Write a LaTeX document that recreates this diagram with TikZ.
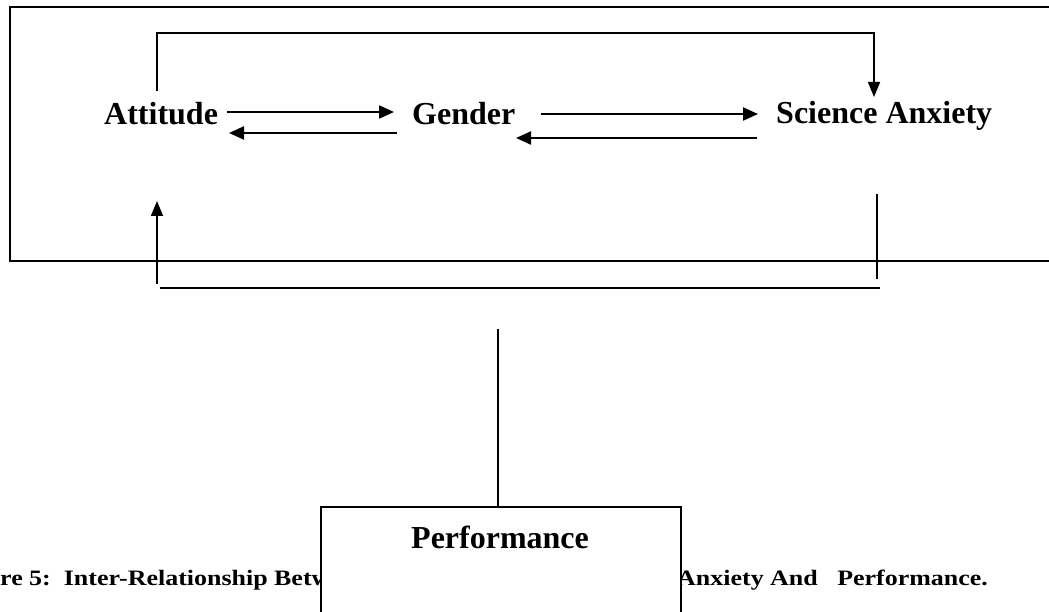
\documentclass[tikz,border=0pt]{standalone}
\usepackage{fontspec}
\setmainfont{Liberation Serif}
\newfontfamily\capfont[FakeStretch=1.18]{Liberation Serif}
\usetikzlibrary{arrows.meta}
\begin{document}
\begin{tikzpicture}[x=1pt,y=-1pt,
  lbl/.style={inner sep=0pt,anchor=base west,font=\fontsize{32}{38}\selectfont\bfseries},
  captext/.style={inner sep=0pt,anchor=base west,font=\capfont\fontsize{22}{26}\selectfont\bfseries},
  frame/.style={draw=black,line width=1.6pt},
  conn/.style={draw=black,line width=1.5pt},
  harr/.style={draw=black,line width=2.2pt,-{Triangle[length=15pt,width=13pt]}},
  varr/.style={draw=black,line width=1.5pt,-{Triangle[length=15pt,width=12pt]}}]
\useasboundingbox (0,0) rectangle (1049,612);
\clip (0,0) rectangle (1049,612);
\fill[white] (0,0) rectangle (1049,612);
% outer frame
\draw[frame] (10,7) rectangle (1065,261);
% labels
\node[lbl] (att) at (104,125) {Attitude};
\node[lbl] (gen) at (412,125) {Gender};
\node[lbl] (sci) at (776,124) {Science Anxiety};
% horizontal arrows
\coordinate (ag1) at (227,112); \coordinate (ag2) at (394,112);
\coordinate (ga1) at (397,133); \coordinate (ga2) at (229,133);
\coordinate (gs1) at (541,114); \coordinate (gs2) at (758,114);
\coordinate (sg1) at (757,138); \coordinate (sg2) at (516,138);
\draw[harr] (ag1) -- (ag2);
\draw[harr] (ga1) -- (ga2);
\draw[harr] (gs1) -- (gs2);
\draw[harr] (sg1) -- (sg2);
% top loop
\coordinate (t1) at (157,91); \coordinate (t2) at (157,33);
\coordinate (t3) at (874,33); \coordinate (t4) at (874,97);
\draw[varr] (t1) -- (t2) -- (t3) -- (t4);
% bottom loop
\coordinate (b1) at (157,284); \coordinate (b2) at (157,201);
\draw[varr] (b1) -- (b2);
\coordinate (r1) at (877,194); \coordinate (r2) at (877,279);
\draw[conn] (r1) -- (r2);
\coordinate (h1) at (160,288); \coordinate (h2) at (880,288);
\draw[conn] (h1) -- (h2);
% caption fragments
\node[captext] (capl) at (0,585) {re 5:\ \ Inter-Relationship Betw};
\node[captext] (capr) at (677,585) {Anxiety And\ \ \ Performance.};
% performance box
\node[draw=black,fill=white,line width=1.5pt,minimum width=360pt,minimum height=150pt,anchor=north west,inner sep=0pt] (perfbox) at (320,506) {};
\node[lbl] (perf) at (411,548) {Performance};
\coordinate (v1) at (498,329);
\draw[conn] (v1) -- (v1 |- perfbox.north);
\end{tikzpicture}
\end{document}
